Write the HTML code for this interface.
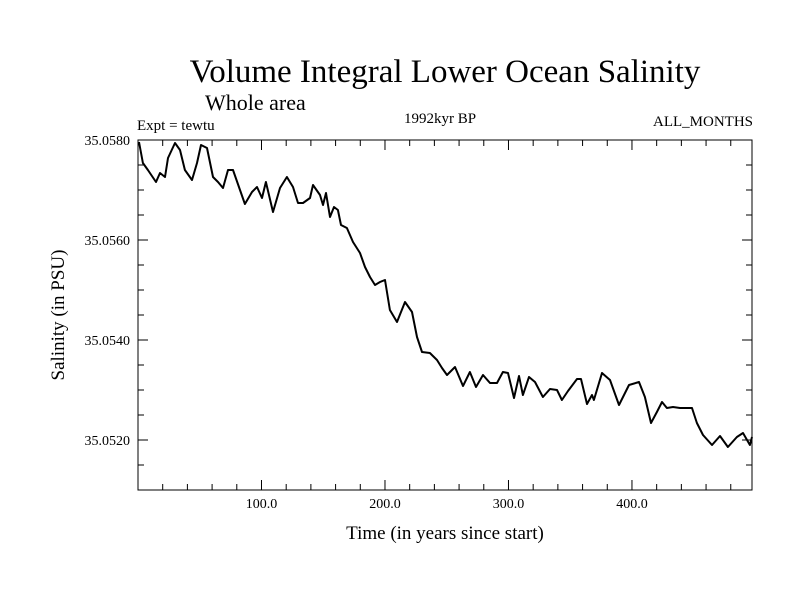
<!DOCTYPE html>
<html><head><meta charset="utf-8"><style>
body{margin:0;background:#fff}
svg text{font-family:"Liberation Serif",serif;fill:#000}
</style></head><body>
<svg id="chart" width="800" height="600" xmlns="http://www.w3.org/2000/svg">
<text x="445" y="82" font-size="33" text-anchor="middle">Volume Integral Lower Ocean Salinity</text>
<text x="205" y="110" font-size="22">Whole area</text>
<text x="137" y="130" font-size="15">Expt = tewtu</text>
<text x="440" y="123" font-size="15" text-anchor="middle">1992kyr BP</text>
<text x="753" y="126" font-size="15" text-anchor="end">ALL_MONTHS</text>
<text x="445" y="539" font-size="19" text-anchor="middle">Time (in years since start)</text>
<text x="0" y="0" font-size="19" text-anchor="middle" transform="translate(64,315) rotate(-90)">Salinity (in PSU)</text>
<g id="axes"></g>
<path id="line" fill="none" stroke="#000" stroke-width="2" stroke-linejoin="round"/>
</svg>
<script>
const years=[0.8,4,8,14.6,17.8,21.9,24.3,30,34,38,43.7,47.8,51,55.9,60.7,64.8,68.8,72.9,76.9,82.6,86.6,92.3,96.4,100.4,103.6,109.3,115,120.6,125.5,129.6,133.6,139.3,141.7,147.4,149.8,152.2,155.5,158.7,161.9,164.4,169.2,174.1,179.8,183.8,187.9,191.9,196,200,204,209.7,216.2,221.9,225.9,230,236.4,242.1,246.2,250.2,256.7,263.2,268.8,273.7,279.4,285,290.7,295.5,299.6,304.5,308.5,311.7,316.6,321.5,327.9,333.6,339.3,343.3,348.2,355.5,358.7,363.6,367.6,369.2,375.7,382.2,389.5,397.6,405.7,410.5,415.4,420.2,424.3,428.3,433.2,438.9,444.5,448.6,452.6,457.5,464.8,471.3,477.7,485,489.9,495.5,497.2];
const salinity=[35.05796,35.05754,35.0574,35.05716,35.05734,35.05726,35.05764,35.05794,35.0578,35.0574,35.0572,35.05754,35.0579,35.05784,35.05726,35.05716,35.05704,35.0574,35.0574,35.057,35.05672,35.05696,35.05706,35.05684,35.05716,35.05656,35.05704,35.05726,35.05706,35.05674,35.05674,35.05684,35.0571,35.0569,35.0567,35.05694,35.05646,35.05666,35.0566,35.0563,35.05624,35.05596,35.05574,35.05546,35.05526,35.0551,35.05516,35.0552,35.0546,35.05436,35.05476,35.05456,35.05406,35.05376,35.05374,35.0536,35.05344,35.0533,35.05346,35.05308,35.05336,35.05306,35.0533,35.05314,35.05314,35.05336,35.05334,35.05284,35.05328,35.0529,35.05326,35.05316,35.05286,35.05302,35.053,35.0528,35.05298,35.05322,35.05322,35.05272,35.0529,35.0528,35.05334,35.0532,35.0527,35.0531,35.05316,35.05286,35.05234,35.05256,35.05276,35.05264,35.05266,35.05264,35.05264,35.05264,35.05234,35.0521,35.0519,35.05208,35.05186,35.05206,35.05214,35.0519,35.05206];
const xTicks=[100,200,300,400];
const xTickLabels=["100.0","200.0","300.0","400.0"];
const yTicks=[35.052,35.054,35.056,35.058];
const yTickLabels=["35.0520","35.0540","35.0560","35.0580"];
const L=138,R=752,T=140,B=490,X0=0,X1=497.2,Y0=35.051,Y1=35.058;
const sx=v=>L+(v-X0)/(X1-X0)*(R-L);
const sy=v=>B-(v-Y0)/(Y1-Y0)*(B-T);
const NS="http://www.w3.org/2000/svg";
const ax=document.getElementById('axes');
function mk(tag,attrs){const e=document.createElementNS(NS,tag);for(const k in attrs)e.setAttribute(k,attrs[k]);ax.appendChild(e);return e;}
const frame=mk('rect',{x:L,y:T,width:R-L,height:B-T,fill:'none',stroke:'#000','stroke-width':1});


let d='';
for(let v=20;v<X1;v+=20){const x=sx(v);const len=(v%100===0)?10:6;d+=`M${x},${B}v${-len}M${x},${T}v${len}`;}
for(let v=35.0515;v<35.05801;v+=0.0005){const y=sy(v);const maj=Math.abs((v*1e4)%20-0)<0.01||Math.abs((v*1e4)%20-20)<0.01;const len=maj?10:6;d+=`M${L},${y}h${len}M${R},${y}h${-len}`;}
const ticks=mk('path',{d:d,stroke:'#000','stroke-width':1,fill:'none'});


xTicks.forEach((v,i)=>{const t=mk('text',{x:sx(v),y:B+18,'font-size':14,'text-anchor':'middle'});t.textContent=xTickLabels[i];

});
yTicks.forEach((v,i)=>{const t=mk('text',{x:L-8,y:sy(v)+5,'font-size':14,'text-anchor':'end'});t.textContent=yTickLabels[i];

});
document.getElementById('line').setAttribute('d',years.map((v,i)=>(i?'L':'M')+sx(v).toFixed(1)+','+sy(salinity[i]).toFixed(1)).join(''));
</script>
</body></html>
